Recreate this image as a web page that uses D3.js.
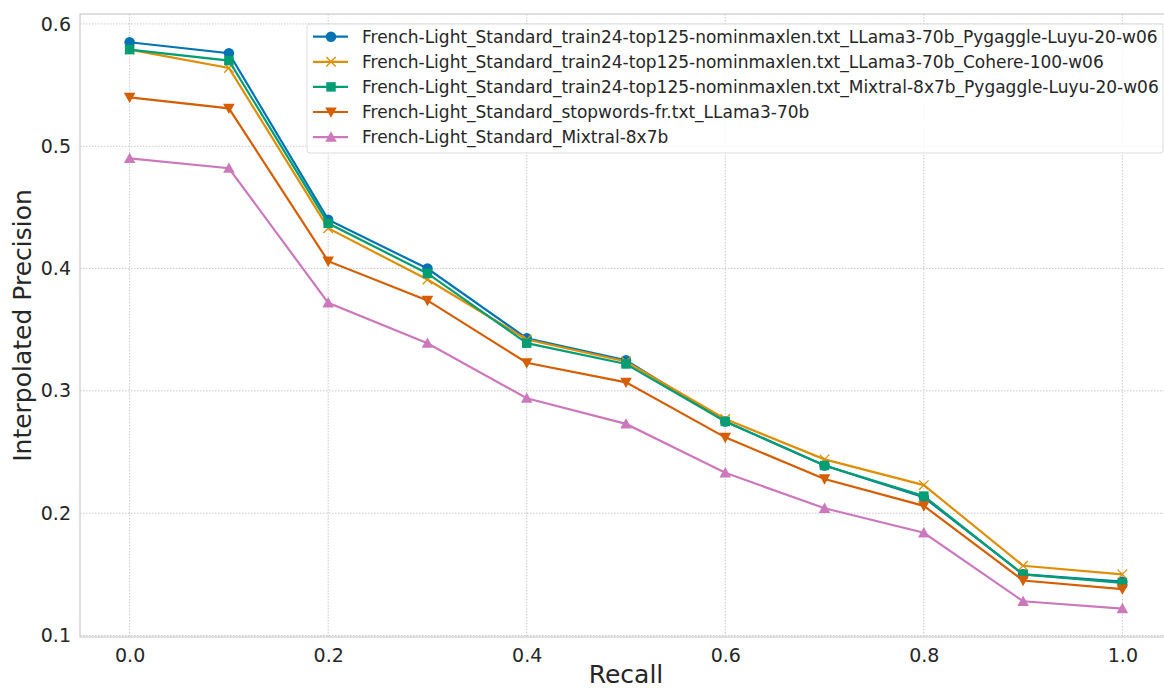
<!DOCTYPE html>
<html>
<head>
<meta charset="utf-8">
<script src="https://cdn.jsdelivr.net/npm/d3@7"></script>
<style>
  html, body { margin: 0; padding: 0; background: #fff; }
  svg { display: block; font-family: "DejaVu Sans", sans-serif; }
</style>
</head>
<body>
<div id="chart"></div>
<script>
// Recall levels on the x axis
const recall = [0.0, 0.1, 0.2, 0.3, 0.4, 0.5, 0.6, 0.7, 0.8, 0.9, 1.0];

// Interpolated precision per run
const llamaPygaggle = [0.585, 0.576, 0.440, 0.400, 0.343, 0.325, 0.275, 0.239, 0.213, 0.150, 0.144];
const llamaCohere   = [0.579, 0.564, 0.433, 0.391, 0.342, 0.324, 0.277, 0.244, 0.223, 0.157, 0.150];
const mixtralPyg    = [0.579, 0.570, 0.437, 0.396, 0.339, 0.322, 0.275, 0.239, 0.214, 0.150, 0.143];
const stopwordsLlama = [0.540, 0.531, 0.406, 0.374, 0.323, 0.307, 0.262, 0.228, 0.206, 0.145, 0.138];
const mixtralPlain  = [0.490, 0.482, 0.372, 0.339, 0.294, 0.273, 0.233, 0.204, 0.184, 0.128, 0.122];

const seriesNames = [
  "French-Light_Standard_train24-top125-nominmaxlen.txt_LLama3-70b_Pygaggle-Luyu-20-w06",
  "French-Light_Standard_train24-top125-nominmaxlen.txt_LLama3-70b_Cohere-100-w06",
  "French-Light_Standard_train24-top125-nominmaxlen.txt_Mixtral-8x7b_Pygaggle-Luyu-20-w06",
  "French-Light_Standard_stopwords-fr.txt_LLama3-70b",
  "French-Light_Standard_Mixtral-8x7b"
];

const xTicks = [0.0, 0.2, 0.4, 0.6, 0.8, 1.0];
const yTicks = [0.1, 0.2, 0.3, 0.4, 0.5, 0.6];

const series = [
  { name: seriesNames[0], values: llamaPygaggle, color: "#0173b2", marker: "circle" },
  { name: seriesNames[1], values: llamaCohere, color: "#de8f05", marker: "x" },
  { name: seriesNames[2], values: mixtralPyg, color: "#029e73", marker: "square" },
  { name: seriesNames[3], values: stopwordsLlama, color: "#d55e00", marker: "tridown" },
  { name: seriesNames[4], values: mixtralPlain, color: "#cc78bc", marker: "triup" }
];

// Chart dimensions
const width = 1164;
const height = 689;
const margin = { top: 14, left: 80, bottom: 637, right: 1172 };

const svg = d3.select("#chart")
  .append("svg")
  .attr("width", width)
  .attr("height", height);

const x = d3.scaleLinear().domain([-0.05, 1.05]).range([margin.left, margin.right]);
const y = d3.scaleLinear().domain([0.0988, 0.6081]).range([margin.bottom, margin.top]);

// Grid
const grid = svg.append("g");
grid.selectAll(".gx")
  .data(xTicks)
  .enter()
  .append("line")
  .attr("x1", d => x(d)).attr("x2", d => x(d))
  .attr("y1", margin.top).attr("y2", margin.bottom)
  .attr("stroke", "#c8c8c8").attr("stroke-width", 1)
  .attr("stroke-dasharray", "1.5,1.5");
grid.selectAll(".gy")
  .data(yTicks)
  .enter()
  .append("line")
  .attr("x1", margin.left).attr("x2", margin.right)
  .attr("y1", d => y(d)).attr("y2", d => y(d))
  .attr("stroke", "#c8c8c8").attr("stroke-width", 1)
  .attr("stroke-dasharray", "1.5,1.5");

// Frame
svg.append("rect")
  .attr("x", margin.left).attr("y", margin.top)
  .attr("width", margin.right - margin.left)
  .attr("height", margin.bottom - margin.top)
  .attr("fill", "none")
  .attr("stroke", "#cccccc")
  .attr("stroke-width", 1.25);

// Axes
const xAxis = svg.append("g")
  .attr("transform", `translate(0,${margin.bottom})`)
  .call(d3.axisBottom(x).tickValues(xTicks).tickFormat(d3.format(".1f")).tickSize(0).tickPadding(12));
const yAxis = svg.append("g")
  .attr("transform", `translate(${margin.left},0)`)
  .call(d3.axisLeft(y).tickValues(yTicks).tickFormat(d3.format(".1f")).tickSize(0).tickPadding(9));
[xAxis, yAxis].forEach(a => {
  a.select(".domain").remove();
  a.selectAll("text")
    .attr("fill", "#262626")
    .style("font-size", "19px")
    .style("font-family", "DejaVu Sans");
});

svg.append("text")
  .attr("x", x(0.5)).attr("y", 683)
  .attr("text-anchor", "middle")
  .attr("fill", "#262626")
  .style("font-size", "25px")
  .text("Recall");

svg.append("text")
  .attr("transform", `translate(31,${(margin.top + margin.bottom) / 2}) rotate(-90)`)
  .attr("text-anchor", "middle")
  .attr("fill", "#262626")
  .style("font-size", "25px")
  .text("Interpolated Precision");

// Marker drawing
function drawMarker(g, type, color, size) {
  const s = size;
  if (type === "circle") {
    g.append("circle").attr("r", s * 0.5).attr("fill", color);
  } else if (type === "square") {
    g.append("rect").attr("x", -s * 0.45).attr("y", -s * 0.45)
      .attr("width", s * 0.9).attr("height", s * 0.9).attr("fill", color);
  } else if (type === "x") {
    const h = s * 0.45;
    g.append("path").attr("d", `M${-h},${-h}L${h},${h}M${-h},${h}L${h},${-h}`)
      .attr("stroke", color).attr("stroke-width", 1.3).attr("fill", "none");
  } else if (type === "tridown") {
    const h = s * 0.55;
    g.append("path").attr("d", `M${-h},${-h * 0.8}L${h},${-h * 0.8}L0,${h}Z`).attr("fill", color);
  } else if (type === "triup") {
    const h = s * 0.55;
    g.append("path").attr("d", `M${-h},${h * 0.8}L${h},${h * 0.8}L0,${-h}Z`).attr("fill", color);
  }
}

const line = d3.line()
  .x((d, i) => x(recall[i]))
  .y(d => y(d));

const plot = svg.append("g");
series.forEach(s => {
  const g = plot.append("g");
  g.append("path")
    .attr("d", line(s.values))
    .attr("fill", "none")
    .attr("stroke", s.color)
    .attr("stroke-width", 2.2);
  s.values.forEach((v, i) => {
    const m = g.append("g").attr("transform", `translate(${x(recall[i])},${y(v)})`);
    drawMarker(m, s.marker, s.color, 10.5);
  });
});

// Legend
const legend = svg.append("g").attr("transform", "translate(307,24)");
legend.append("rect")
  .attr("width", 856).attr("height", 129)
  .attr("rx", 3)
  .attr("fill", "#ffffff").attr("fill-opacity", 0.8)
  .attr("stroke", "#dddddd");
series.forEach((s, i) => {
  const row = legend.append("g").attr("transform", `translate(0,${12.7 + i * 25.1})`);
  row.append("line").attr("x1", 6).attr("x2", 41)
    .attr("stroke", s.color).attr("stroke-width", 2.2);
  drawMarker(row.append("g").attr("transform", "translate(24,0)"), s.marker, s.color, 10.5);
  row.append("text")
    .attr("x", 55).attr("dy", "0.35em")
    .attr("fill", "#262626")
    .style("font-size", "17px")
    .text(s.name);
});
</script>
</body>
</html>
